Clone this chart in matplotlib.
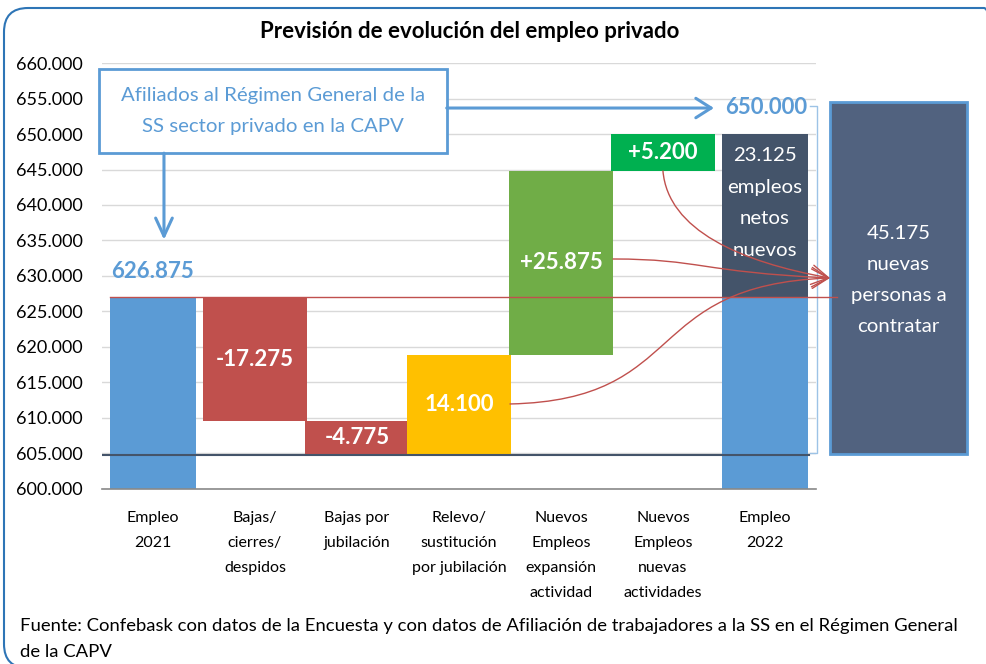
import numpy as np
import matplotlib.pyplot as plt
from matplotlib.patches import FancyArrowPatch, Rectangle, FancyBboxPatch
from matplotlib.path import Path
from matplotlib.transforms import IdentityTransform

plt.rcParams['font.family'] = ['Lato', 'DejaVu Sans']

# datos
categorias = ["Empleo\n2021", "Bajas/\ncierres/\ndespidos", "Bajas por\njubilación",
              "Relevo/\nsustitución\npor jubilación", "Nuevos\nEmpleos\nexpansión\nactividad",
              "Nuevos\nEmpleos\nnuevas\nactividades", "Empleo\n2022"]
empleo_2021 = 626875
variaciones = [-17275, -4775, 14100, 25875, 5200]
colores_var = ['#C0504D', '#C0504D', '#FFC000', '#70AD47', '#00B050']
empleo_2022 = empleo_2021 + sum(variaciones)          # 650.000
netos_nuevos = empleo_2022 - empleo_2021              # 23.125
a_contratar = sum(v for v in variaciones if v > 0)    # 45.175
y_ticks = np.arange(600000, 660001, 5000)

AZUL = '#5B9BD5'
ROJO = '#C0504D'

def fmt(v, mas=False):
    s = f"{abs(v):,.0f}".replace(",", ".")
    if v < 0:
        s = "-" + s
    elif mas:
        s = "+" + s
    return s

fig = plt.figure(figsize=(9.87, 6.64), dpi=100)
ax = fig.add_axes([0.1033, 0.2636, 0.7234, 0.6415])

# marco redondeado (en píxeles)
marco = FancyBboxPatch((4, -4), 1004, 660, boxstyle="round,pad=0,rounding_size=24",
                       transform=IdentityTransform(), fill=False, ec='#2E75B6', lw=1.5,
                       clip_on=False)
fig.patches.append(marco)

# barras
ax.bar(0, empleo_2021, width=0.84, color=AZUL, zorder=2)
nivel = empleo_2021
for i, (v, c) in enumerate(zip(variaciones, colores_var), start=1):
    base = nivel + min(v, 0)
    ax.bar(i, abs(v), bottom=base, width=1.02, color=c, zorder=2)
    ax.text(i, base + abs(v) / 2, fmt(v, mas=(i > 3)), ha='center', va='center',
            color='white', fontsize=16, fontweight='bold', zorder=4)
    nivel += v
ax.bar(6, empleo_2021, width=0.84, color=AZUL, zorder=2)
ax.bar(6, netos_nuevos, bottom=empleo_2021, width=0.84, color='#44546A', zorder=2)
ax.text(6, 640300, f"{fmt(netos_nuevos)}\nempleos\nnetos\nnuevos", ha='center', va='center',
        color='white', fontsize=14.7, linespacing=2.05, zorder=4)

# líneas de referencia
ax.plot([-0.5, 6.43], [empleo_2022 - a_contratar] * 2, color='#44546A', lw=1.5, zorder=3)
ax.plot([-0.42, 6.71], [627100] * 2, color=ROJO, lw=1, zorder=7, clip_on=False)

# etiquetas de total
ax.text(0, 630600, fmt(empleo_2021), ha='center', va='center', color=AZUL,
        fontsize=16, fontweight='bold')
ax.text(5.61, 653700, fmt(empleo_2022), ha='left', va='center', color=AZUL,
        fontsize=16, fontweight='bold')

# corchete
ax.plot([6.44, 6.51, 6.51, 6.44], [653900, 653900, 605070, 605070], color='#9DC3E6',
        lw=1, clip_on=False)

# caja 45.175
ax.add_patch(Rectangle((6.64, 604930), 1.34, 49570, fc='#51627F', ec=AZUL, lw=2,
                       clip_on=False, zorder=3))
ax.text(7.31, 629400, f"{fmt(a_contratar)}\nnuevas\npersonas a\ncontratar", ha='center',
        va='center', color='white', fontsize=14.7, linespacing=2.0, zorder=4)

# caja afiliados
ax.add_patch(Rectangle((-0.53, 647300), 3.41, 11850, fc='white', ec=AZUL, lw=2,
                       clip_on=False, zorder=5))
ax.text(1.176, 653240, "Afiliados al Régimen General de la\nSS sector privado en la CAPV",
        ha='center', va='center', color=AZUL, fontsize=14.7, linespacing=2.0, zorder=6)

def flecha(a, b, color, lw, hl, hw, path=None):
    estilo = f'->,head_length={hl},head_width={hw}'
    if path is not None:
        p = FancyArrowPatch(path=path, arrowstyle=estilo, mutation_scale=20, color=color,
                            lw=lw, zorder=6, clip_on=False)
    else:
        p = FancyArrowPatch(a, b, arrowstyle=estilo, mutation_scale=20, color=color, lw=lw,
                            shrinkA=0, shrinkB=0, zorder=6, clip_on=False)
    ax.add_patch(p)

flecha((0.108, 647300), (0.108, 635100), AZUL, 2.2, 0.65, 0.3)
flecha((2.88, 653660), (5.5, 653660), AZUL, 2.2, 0.55, 0.35)

# conectores curvos rojos
fin = (6.637, 629718)
curvas = [
    [(5.0, 644800), (5.049, 636479), (5.755, 631972), fin],
    [(4.51, 632394), (5.363, 632394), (5.363, 630563), fin],
    [(3.5, 611972), (5.265, 612535), (4.775, 628732), fin],
]
for pts in curvas:
    camino = Path(pts, [Path.MOVETO, Path.CURVE4, Path.CURVE4, Path.CURVE4])
    flecha(None, None, ROJO, 1, 0.6, 0.35, path=camino)

# ejes
ax.set_xlim(-0.5, 6.5)
ax.set_ylim(600000, 660000)
ax.set_yticks(y_ticks)
ax.set_yticklabels([fmt(v) for v in y_ticks], fontsize=13.0)
ax.set_xticks(range(len(categorias)))
ax.set_xticklabels(categorias, fontsize=11.5, linespacing=1.98)
ax.tick_params(axis='both', length=0)
ax.tick_params(axis='y', pad=14)
ax.tick_params(axis='x', pad=16)
ax.grid(axis='y', color='#D9D9D9', lw=1)
ax.set_axisbelow(True)
for s in ['left', 'right', 'top']:
    ax.spines[s].set_visible(False)
ax.spines['bottom'].set_color('#898989')
ax.spines['bottom'].set_linewidth(1.2)

fig.text(0.476, 0.953, "Previsión de evolución del empleo privado", ha='center',
         va='center', fontsize=16, fontweight='bold')
fig.text(0.020, 0.038, "Fuente: Confebask con datos de la Encuesta y con datos de Afiliación "
         "de trabajadores a la SS en el Régimen General\nde la CAPV", ha='left', va='center',
         fontsize=13.3, linespacing=1.75)

fig.savefig('out.png', dpi=100)
